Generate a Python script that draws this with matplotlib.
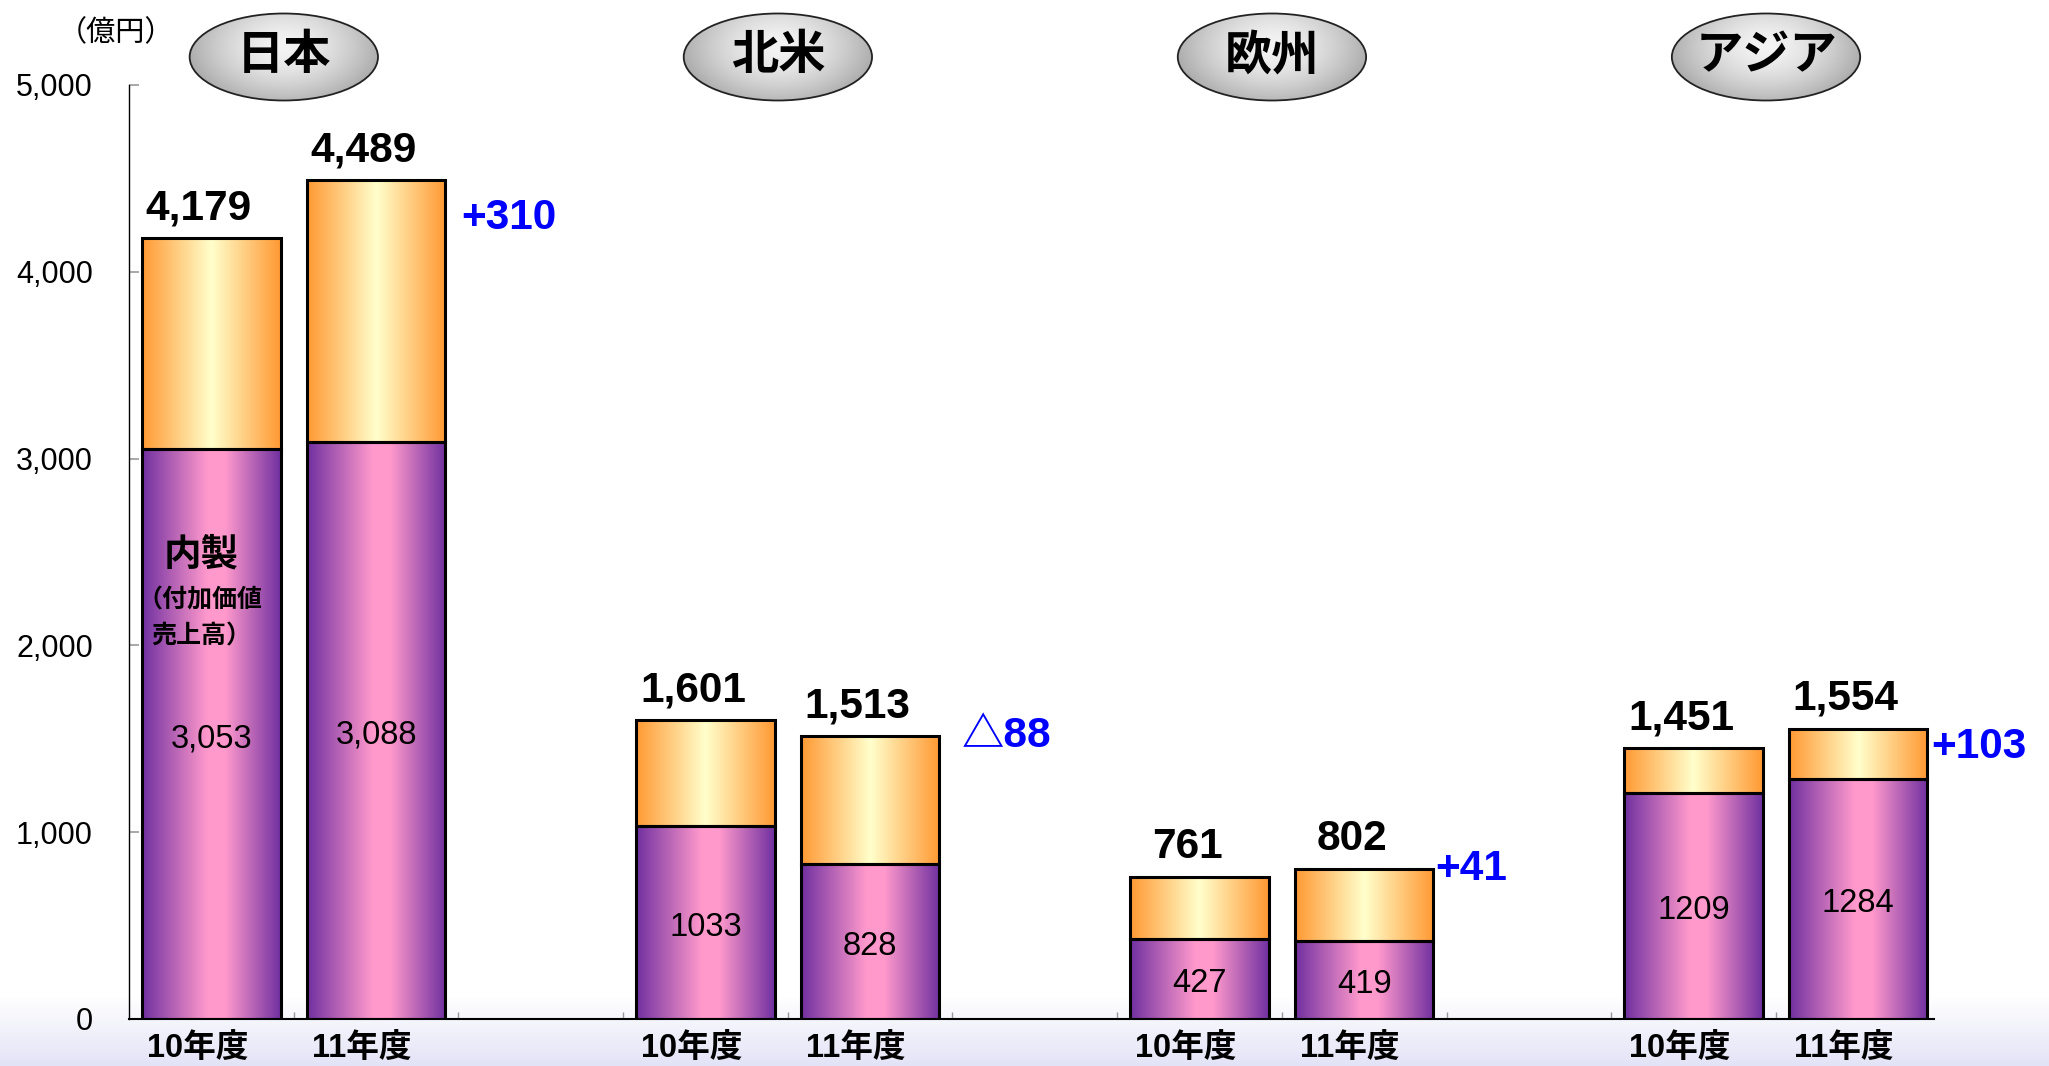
import numpy as np
import matplotlib
matplotlib.use('Agg')
import matplotlib.pyplot as plt
from matplotlib.colors import LinearSegmentedColormap, to_rgb
from matplotlib.patches import Ellipse
from matplotlib.transforms import ScaledTranslation

# データ
regions = ['日本', '北米', '欧州', 'アジア']
years = ['10年度', '11年度']
inhouse = [3053, 3088, 1033, 828, 427, 419, 1209, 1284]      # 内製（付加価値売上高）
totals = [4179, 4489, 1601, 1513, 761, 802, 1451, 1554]
inhouse_labels = ['3,053', '3,088', '1033', '828', '427', '419', '1209', '1284']
change_labels = ['+310', '△88', '+41', '+103']

# 配置（px）
change_dy = [-38, 0, 0, -18]
change_dx = [16, 22, 2, 4]

FONTS = ['Liberation Sans', 'Noto Sans CJK JP', 'DejaVu Sans']
plt.rcParams['font.family'] = FONTS

W, H = 2049, 1066
fig = plt.figure(figsize=(W / 100, H / 100), dpi=100)

# 下部の背景グラデーション
bg = fig.add_axes([0, 0, 1, 0.065], zorder=-5)
bg_cmap = LinearSegmentedColormap.from_list('bg', ['#E3E3F7', '#FFFFFF'])
bg.imshow(np.linspace(0, 1, 100).reshape(-1, 1), cmap=bg_cmap, aspect='auto',
          extent=[0, 1, 0, 1], origin='lower')
bg.axis('off')

ax = fig.add_axes([129 / W, 47 / H, 1805 / W, 934 / H])
ax.patch.set_alpha(0)

x = [3 * g + k for g in range(len(regions)) for k in range(len(years))]
inhouse = np.array(inhouse)
totals = np.array(totals)
bw = 0.84

purple = LinearSegmentedColormap.from_list(
    'purple', [(0, '#7030A0'), (0.47, '#FF99CC'), (0.6, '#FF99CC'), (1, '#7030A0')])
orange = LinearSegmentedColormap.from_list(
    'orange', [(0, '#FF9933'), (0.5, '#FFFFCC'), (1, '#FF9933')])
grad = np.linspace(0, 1, 256).reshape(1, -1)

low = ax.bar(x, inhouse, width=bw, color='none', edgecolor='black', linewidth=2.2, zorder=3)
high = ax.bar(x, totals - inhouse, bottom=inhouse, width=bw, color='none',
              edgecolor='black', linewidth=2.2, zorder=3)
for bars, cmap in [(low, purple), (high, orange)]:
    for r in bars:
        ax.imshow(grad, cmap=cmap, aspect='auto', zorder=2,
                  extent=[r.get_x(), r.get_x() + r.get_width(),
                          r.get_y(), r.get_y() + r.get_height()])

ax.set_xlim(-0.5, 10.46)
ax.set_ylim(0, 5000)

# 合計ラベル
for xi, t in zip(x, totals):
    ax.annotate(f'{t:,}', (xi, t), xytext=(-9, 7), textcoords='offset points',
                ha='center', va='bottom', fontsize=30.5, fontweight='bold')

# 内製ラベル
for xi, v, lab in zip(x, inhouse, inhouse_labels):
    ax.annotate(lab, (xi, v / 2), xytext=(0, -3.5), textcoords='offset points',
                ha='center', va='center', fontsize=23.5, zorder=4)

ax.text(-0.06, 2480, '内製', ha='center', va='center', fontsize=27, fontweight='bold', zorder=4)
ax.text(-0.07, 2240, '（付加価値', ha='center', va='center', fontsize=18, fontweight='bold', zorder=4)
ax.text(-0.06, 2045, '売上高）', ha='center', va='center', fontsize=18, fontweight='bold', zorder=4)

# 増減ラベル
for i, lab in enumerate(change_labels):
    xi = x[2 * i + 1]
    ax.annotate(lab, (xi + bw / 2, totals[2 * i + 1]),
                xytext=(change_dx[i] * 0.72, change_dy[i] * 0.72), textcoords='offset points',
                ha='left', va='center', fontsize=30.5, fontweight='bold', color='#0000FF')

# 軸
for s in ['top', 'right']:
    ax.spines[s].set_visible(False)
ax.spines['left'].set_linewidth(1.0)
ax.spines['bottom'].set_linewidth(1.5)
ax.set_yticks(range(0, 5001, 1000))
ax.set_yticklabels([f'{v:,}' for v in range(0, 5001, 1000)])
ax.tick_params(axis='y', direction='in', length=7, width=1.2, color='#999999',
               labelsize=22, pad=26)
ax.set_xticks(x)
ax.set_xticklabels(years * len(regions), fontsize=23.5, fontweight='bold')
ax.tick_params(axis='x', which='major', length=0, pad=11)
ax.set_xticks([k + 0.5 for k in range(10)], minor=True)
ax.tick_params(axis='x', which='minor', direction='in', length=5, width=1, color='#999999')
for lab in ax.get_xticklabels():
    lab.set_transform(lab.get_transform() + ScaledTranslation(-14 / 100, 0, fig.dpi_scale_trans))

fig.text(116 / W, 1 - 33 / H, '（億円）', ha='center', va='center', fontsize=21)

# 地域名の楕円
oax = fig.add_axes([129 / W, (H - 110) / H, 1805 / W, 110 / H], zorder=5)
oax.patch.set_alpha(0)
oax.axis('off')
u, v = np.meshgrid(np.linspace(0, 1, 200), np.linspace(1, 0, 200))
d = np.clip(np.sqrt(((u - 0.5) / 0.55) ** 2 + ((v - 0.62) / 0.75) ** 2), 0, 1)
light, dark = np.array(to_rgb('#F4F4F4')), np.array(to_rgb('#A4A4A4'))
oval_img = light + (dark - light) * (d ** 1.6)[..., None]
ow, oh = 188 / 164.4, 87
for g, name in enumerate(regions):
    cx = 3 * g + 0.5 - 0.06
    cy = 110 - 57
    ell = Ellipse((cx, cy), ow, oh, facecolor='none', edgecolor='#222222', linewidth=1.3, zorder=3)
    oax.add_patch(ell)
    im = oax.imshow(oval_img, aspect='auto', zorder=2,
                    extent=[cx - ow / 2, cx + ow / 2, cy - oh / 2, cy + oh / 2])
    im.set_clip_path(ell)
    oax.text(cx, cy, name, ha='center', va='center', fontsize=34, fontweight='bold', zorder=4)
oax.set_xlim(-0.5, 10.46)
oax.set_ylim(0, 110)

fig.savefig('out.png', dpi=100)
